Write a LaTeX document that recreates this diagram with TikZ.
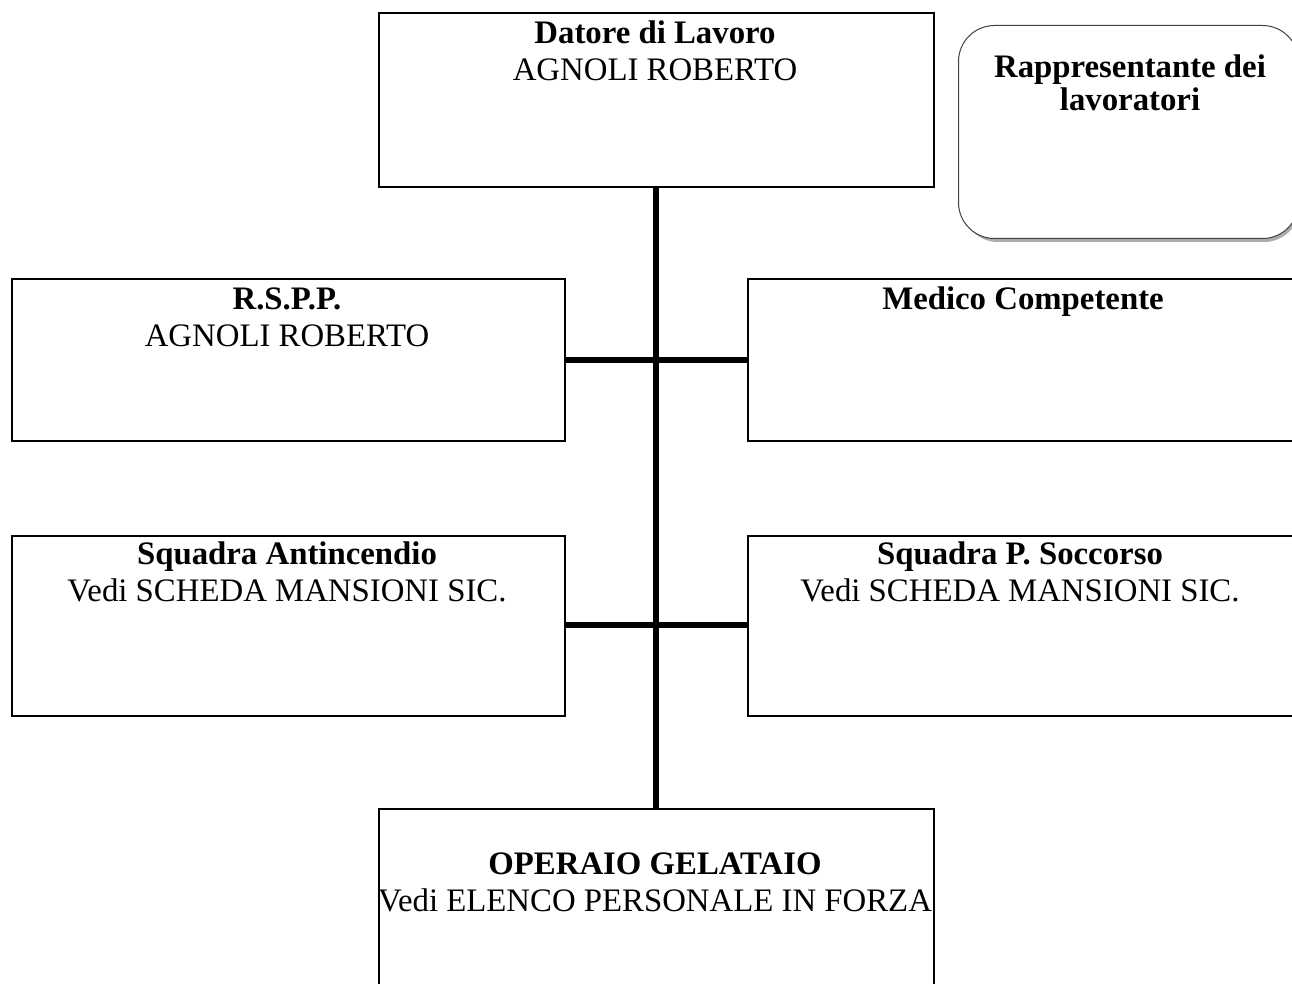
\documentclass[tikz,border=0pt]{standalone}
\usepackage{fontspec}
\setmainfont{Liberation Serif}
\begin{document}
\begin{tikzpicture}[x=1pt,y=-1pt,
  box/.style={draw=black,line width=1.6pt,fill=white,rectangle,inner sep=0pt,anchor=north west},
  lbl/.style={anchor=base,inner sep=0pt,font=\fontsize{32.8}{37}\selectfont},
  blbl/.style={lbl,font=\fontsize{32.8}{37}\selectfont\bfseries},
  link/.style={line width=6.5pt}]
\useasboundingbox (0,0) rectangle (1292,984);
\clip (0,0) rectangle (1292,984);
% boxes
\node[box,minimum width=555pt,minimum height=174pt] (dat) at (378,12) {};
\node[box,minimum width=553pt,minimum height=162pt] (rspp) at (11,278) {};
\node[box,minimum width=560pt,minimum height=162pt] (med) at (747,278) {};
\node[box,minimum width=553pt,minimum height=180pt] (antinc) at (11,535) {};
\node[box,minimum width=560pt,minimum height=180pt] (socc) at (747,535) {};
\node[box,minimum width=555pt,minimum height=190pt] (oper) at (378,808) {};
% rounded box with shadow
\fill[gray!65,rounded corners=36pt] (962,29) rectangle (1300,242);
\node[draw=black!75,line width=1pt,fill=white,rounded corners=36pt,rectangle,inner sep=0pt,anchor=north west,minimum width=340pt,minimum height=213pt] (rls) at (958,25) {};
% texts
\node[blbl] (t1) at (655,44) {Datore di Lavoro};
\node[lbl] (t2) at (655,81) {AGNOLI ROBERTO};
\node[blbl] (t3) at (1130,78) {Rappresentante dei};
\node[blbl] (t4) at (1130,111) {lavoratori};
\node[blbl] (t5) at (287,309) {R.S.P.P.};
\node[lbl] (t6) at (287,346) {AGNOLI ROBERTO};
\node[blbl] (t7) at (1023,309) {Medico Competente};
\node[blbl] (t8) at (287,564) {Squadra Antincendio};
\node[lbl] (t9) at (287,601) {Vedi SCHEDA MANSIONI SIC.};
\node[blbl] (t10) at (1020,564) {Squadra P. Soccorso};
\node[lbl] (t11) at (1020,601) {Vedi SCHEDA MANSIONI SIC.};
\node[blbl] (t12) at (655,874) {OPERAIO GELATAIO};
\node[lbl] (t13) at (655,911) {Vedi ELENCO PERSONALE IN FORZA};
% connectors
\coordinate (jA) at (656,360);
\coordinate (jB) at (656,625);
\draw[link] (dat.south -| jA) -- (oper.north -| jA);
\draw[link] (rspp.east |- jA) -- (med.west |- jA);
\draw[link] (antinc.east |- jB) -- (socc.west |- jB);
\end{tikzpicture}
\end{document}
